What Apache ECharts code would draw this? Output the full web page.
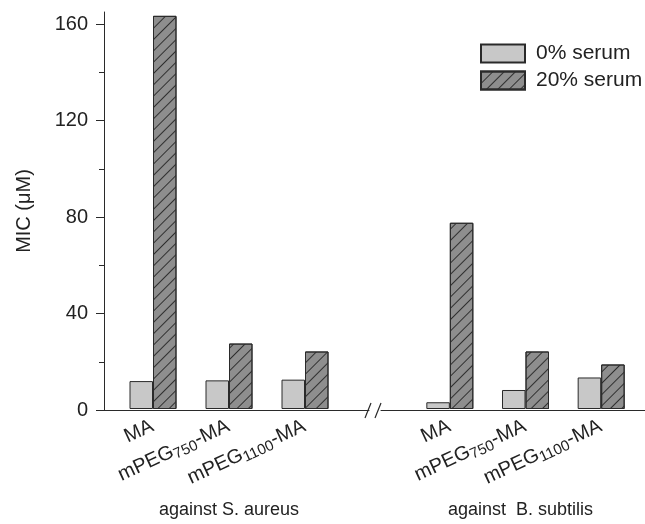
<!DOCTYPE html>
<html><head><meta charset="utf-8">
<script src="https://cdn.jsdelivr.net/npm/echarts@6/dist/echarts.min.js"></script>
<style>html,body{margin:0;padding:0;background:#fff}#c{width:645px;height:524px}</style>
</head><body><div id="c"></div>
<script>
const categoriesSA = ['MA', 'mPEG750-MA', 'mPEG1100-MA'];
const categoriesBS = ['MA', 'mPEG750-MA', 'mPEG1100-MA'];
const groupNames = ['against S. aureus', 'against  B. subtilis'];
const seriesNames = ['0% serum', '20% serum'];
const sa0 = [11.6, 11.9, 12.2];
const sa20 = [163.4, 27.2, 23.9];
const bs0 = [2.8, 7.9, 13.1];
const bs20 = [77.4, 23.9, 18.5];
const yTicks = [0, 40, 80, 120, 160];
const yMinorTicks = [20, 60, 100, 140];

const FONT = '"Liberation Sans", Arial, Helvetica, sans-serif';
const LINE = '#2a2a2a';
const YMAX = 165;
const TOP = 12, BOTTOM = 114;

const decal = { symbol: 'rect', dashArrayX: [1, 0], dashArrayY: [1, 7], symbolSize: 1, rotation: -Math.PI / 4, color: '#2f2f2f' };

function catLabel(v) {
  const m = v.match(/^(mPEG)(\d+)(-MA)$/);
  if (!m) return '{a|' + v + '}';
  return '{a|' + m[1] + '}{sub|' + m[2] + '}{a|' + m[3] + '}';
}
const rich = {
  a: { fontSize: 20, fontFamily: FONT, color: '#222', lineHeight: 22, verticalAlign: 'top' },
  sub: { fontSize: 15, fontFamily: FONT, color: '#222', lineHeight: 15, verticalAlign: 'bottom', padding: [11, 0, 0, 0] }
};

function hiddenY(gi) {
  return { type: 'value', gridIndex: gi, min: 0, max: YMAX, show: false };
}
function barX(gi, cats, name, namePad) {
  return {
    type: 'category', gridIndex: gi, data: cats,
    axisLine: { show: false }, axisTick: { show: false },
    axisLabel: { rotate: 25, margin: 17, formatter: catLabel, rich: rich, interval: 0 },
    name: name, nameLocation: 'middle', nameGap: 92,
    nameTextStyle: { fontSize: 18, fontFamily: FONT, color: '#222', padding: namePad }
  };
}
function lineX(gi) {
  return {
    type: 'category', gridIndex: gi, data: ['x'],
    axisLine: { show: true, lineStyle: { color: LINE, width: 1 } },
    axisTick: { show: false }, axisLabel: { show: false }
  };
}

const option = {
  animation: false,
  backgroundColor: '#fff',
  textStyle: { fontFamily: FONT },
  grid: [
    { left: 104, width: 265, top: TOP, bottom: BOTTOM },
    { left: 381, right: 0, top: TOP, bottom: BOTTOM },
    { left: 115, width: 228, top: TOP, bottom: BOTTOM },
    { left: 412, width: 227, top: TOP, bottom: BOTTOM }
  ],
  xAxis: [
    lineX(0), lineX(1),
    barX(2, categoriesSA, groupNames[0], [0, 0, 0, 0]),
    barX(3, categoriesBS, groupNames[1], [0, 10, 0, 0])
  ],
  yAxis: [
    {
      type: 'value', gridIndex: 0, min: 0, max: YMAX, position: 'left',
      axisLine: { show: true, lineStyle: { color: LINE, width: 1 } },
      axisTick: { show: true, length: 8, customValues: yTicks, lineStyle: { color: LINE } },
      axisLabel: { customValues: yTicks, fontSize: 20, color: '#222', margin: 16, fontFamily: FONT },
      splitLine: { show: false },
      name: 'MIC (μM)', nameLocation: 'middle', nameGap: 70, nameRotate: 90,
      nameTextStyle: { fontSize: 20, color: '#222', fontFamily: FONT }
    },
    {
      type: 'value', gridIndex: 0, min: 0, max: YMAX, position: 'left', offset: 0,
      axisLine: { show: false },
      axisTick: { show: true, length: 5, customValues: yMinorTicks, lineStyle: { color: LINE } },
      axisLabel: { show: false }, splitLine: { show: false }
    },
    hiddenY(1), hiddenY(2), hiddenY(3)
  ],
  legend: {
    orient: 'vertical', left: 480, top: 43, padding: 0,
    itemWidth: 44, itemHeight: 18, itemGap: 6, icon: 'rect',
    data: seriesNames,
    textStyle: { fontSize: 21, color: '#222', fontFamily: FONT, padding: [0, 0, 0, 6] }
  },
  series: [
    { name: seriesNames[0], type: 'bar', xAxisIndex: 2, yAxisIndex: 3, data: sa0, barWidth: 23.5, barGap: '0%',
      itemStyle: { color: '#c8c8c8', borderColor: LINE, borderWidth: 1 } },
    { name: seriesNames[1], type: 'bar', xAxisIndex: 2, yAxisIndex: 3, data: sa20, barWidth: 23.5, barGap: '0%',
      itemStyle: { color: '#8e8e8e', borderColor: LINE, borderWidth: 1, decal: decal } },
    { name: seriesNames[0], type: 'bar', xAxisIndex: 3, yAxisIndex: 4, data: bs0, barWidth: 23.5, barGap: '0%',
      itemStyle: { color: '#c8c8c8', borderColor: LINE, borderWidth: 1 } },
    { name: seriesNames[1], type: 'bar', xAxisIndex: 3, yAxisIndex: 4, data: bs20, barWidth: 23.5, barGap: '0%',
      itemStyle: { color: '#8e8e8e', borderColor: LINE, borderWidth: 1, decal: decal } }
  ],
  graphic: [
    { type: 'line', shape: { x1: 365, y1: 418, x2: 371, y2: 403 }, style: { stroke: LINE, lineWidth: 1.2 } },
    { type: 'line', shape: { x1: 375, y1: 418, x2: 381, y2: 403 }, style: { stroke: LINE, lineWidth: 1.2 } }
  ]
};
const chart = echarts.init(document.getElementById('c'), null, { renderer: 'canvas' });
chart.setOption(option);
</script></body></html>
